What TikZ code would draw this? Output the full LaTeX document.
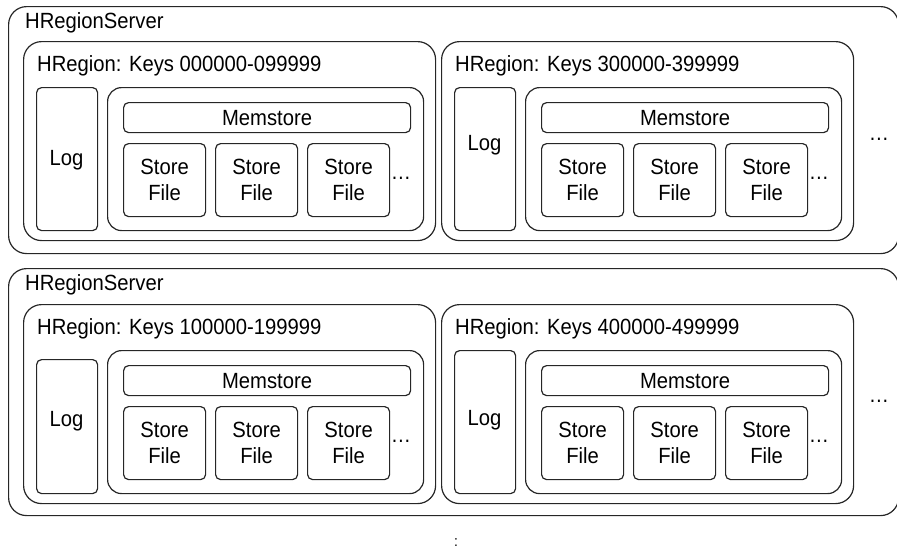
\documentclass[tikz,border=0pt]{standalone}
\usepackage{fontspec}
\setmainfont{Liberation Sans}[FakeStretch=0.92]
\usepackage{tikz}
\usetikzlibrary{positioning}

\tikzset{
    box/.style={draw=black!85, line width=1.2pt, anchor=north west, inner sep=0pt},
    serverbox/.style={box, rounded corners=18pt},
    regionbox/.style={box, rounded corners=18pt},
    logbox/.style={box, rounded corners=5pt},
    storebox/.style={box, rounded corners=14pt},
    membox/.style={box, rounded corners=5pt, align=center},
    filebox/.style={box, rounded corners=5pt, align=center},
    lbl/.style={anchor=base west, inner sep=0pt}
}

\begin{document}
\begin{tikzpicture}[x=1pt, y=-1pt, font=\fontsize{22}{26}\selectfont]
    \useasboundingbox (0,0) rectangle (897,554);

    % region servers
    \foreach \s/\sy in {1/6, 2/268} {
        \node[serverbox, minimum width=890pt, minimum height=247pt] (srv\s) at (8,\sy) {};
        \node[lbl] (srv\s-lbl) at (25,\sy+22) {HRegionServer};
        \node (srv\s-more) at (879,\sy+133) {\ldots};
    }

    % regions: name / x / y / keys / log text y / log top
    \foreach \n/\x/\y/\keys/\ly/\lt in {a/23/41/000000-099999/119/46,
                                        b/441/41/300000-399999/104/46,
                                        c/23/304/100000-199999/117/55,
                                        d/441/304/400000-499999/116/46} {
        \node[regionbox, minimum width=412pt, minimum height=199pt] (\n) at (\x,\y) {};
        \node[lbl] (\n-lbl) at (\x+14,\y+30) {HRegion: Keys \keys};
        % log
        \node[logbox, minimum width=61pt, minimum height=189pt-\lt pt] (\n-log) at (\x+13,\y+\lt) {};
        \node (\n-logtxt) at (\x+43.5,\y+\ly) {Log};
        % store
        \node[storebox, minimum width=316pt, minimum height=143pt] (\n-store) at (\x+84,\y+46) {};
        \node[membox, minimum width=287pt, minimum height=30pt] (\n-mem) at (\x+100,\y+61) {Memstore};
        \foreach \i/\dx in {1/100, 2/192, 3/284} {
            \node[filebox, minimum width=82pt, minimum height=73pt] (\n-sf\i) at (\x+\dx,\y+102) {Store\\File};
        }
        \node (\n-more) at (\x+378,\y+137) {\ldots};
    }

    % more servers
    \node[font=\fontsize{15}{18}\selectfont] (more) at (456,543) {:};
\end{tikzpicture}
\end{document}
